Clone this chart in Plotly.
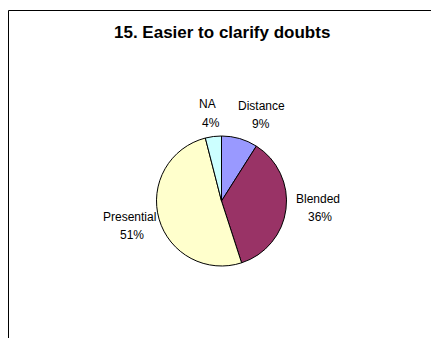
import plotly.graph_objects as go

labels = ["Distance", "Blended", "Presential", "NA"]
values = [9, 36, 51, 4]
colors = ["#9999FF", "#993366", "#FFFFCC", "#CCFFFF"]
title_text = "15. Easier to clarify doubts"

W, H = 431, 338
FONT = "Liberation Sans, Arial"


def px(x):
    return x / W


def py(y):
    return 1 - y / H


cx, cy, r = 221.5, 201, 65

fig = go.Figure(go.Pie(
    labels=labels, values=values, sort=False, direction="clockwise", rotation=0,
    marker=dict(colors=colors, line=dict(color="black", width=1)),
    textinfo="none", hoverinfo="label+percent", showlegend=False,
    domain=dict(x=[px(cx - r), px(cx + r)], y=[py(cy + r), py(cy - r)]),
))

total = sum(values)
# (x of name, y of name, x of percent, y of percent) in window pixels
label_pos = {
    "Distance": (261, 106, 261, 124),
    "Blended": (318, 199, 320, 217),
    "Presential": (129, 217, 132, 235),
    "NA": (207, 104, 211, 123),
}
anns = []
for lab, v in zip(labels, values):
    x1, y1, x2, y2 = label_pos[lab]
    for txt, x, y in ((lab, x1, y1), (f"{round(100 * v / total)}%", x2, y2)):
        anns.append(dict(x=px(x), y=py(y), xref="paper", yref="paper", showarrow=False,
                         xanchor="center", yanchor="middle", text=txt,
                         font=dict(family=FONT, size=12, color="black")))
anns.append(dict(x=px(222), y=py(33), xref="paper", yref="paper", showarrow=False,
                 xanchor="center", yanchor="middle", text=f"<b>{title_text}</b>",
                 font=dict(family=FONT, size=17, color="black")))

fig.update_layout(
    width=W, height=H, margin=dict(l=0, r=0, t=0, b=0),
    paper_bgcolor="white", plot_bgcolor="white",
    annotations=anns,
    shapes=[
        dict(type="line", xref="paper", yref="paper", x0=px(8.5), x1=px(8.5), y0=py(10.5), y1=0,
             line=dict(color="black", width=1)),
        dict(type="line", xref="paper", yref="paper", x0=px(8.5), x1=1, y0=py(10.5), y1=py(10.5),
             line=dict(color="black", width=1)),
    ],
)
fig.write_html("out.html", config={"displayModeBar": False},
               post_script="document.body.style.margin='0';document.body.style.overflow='hidden';")
